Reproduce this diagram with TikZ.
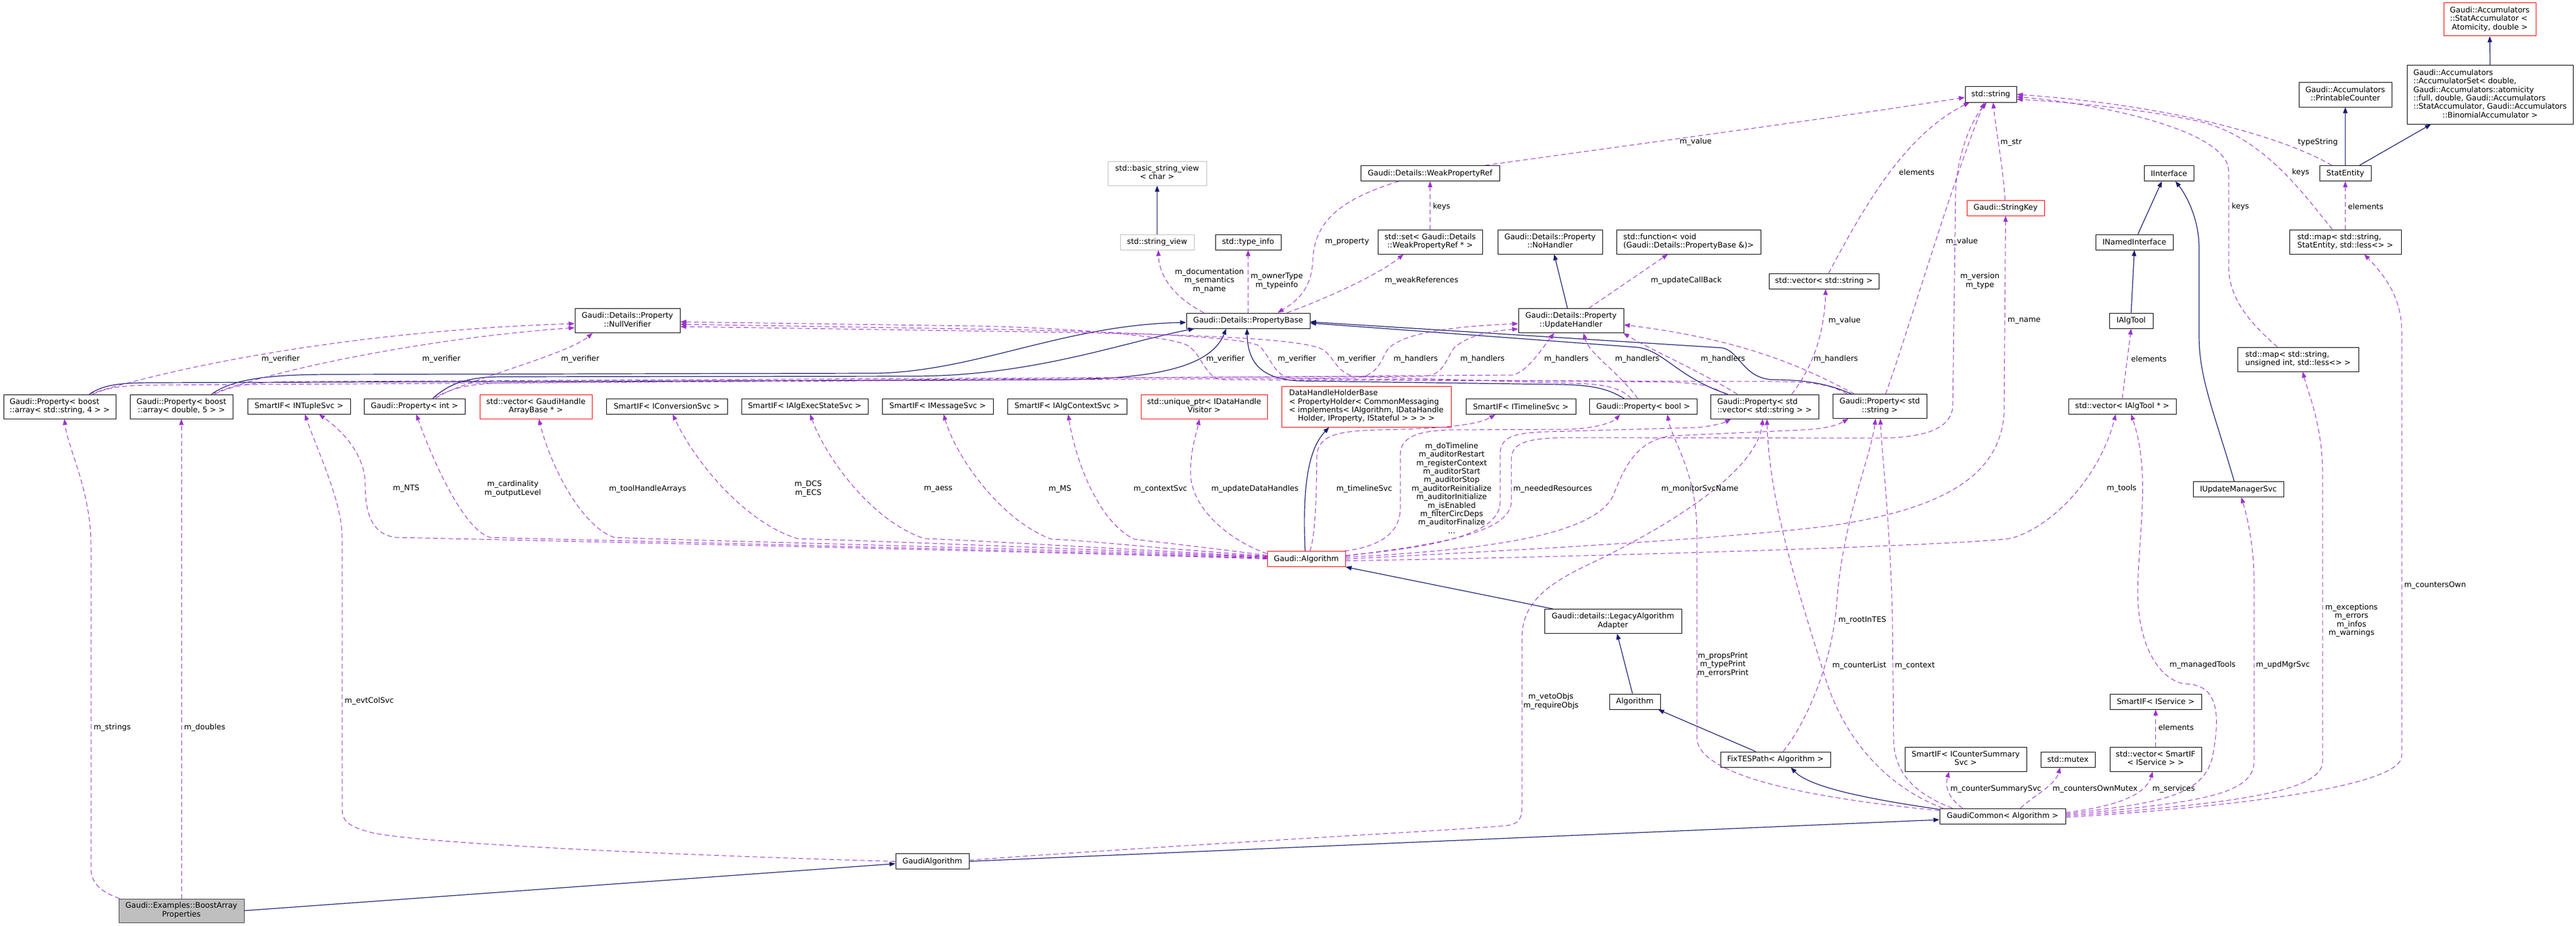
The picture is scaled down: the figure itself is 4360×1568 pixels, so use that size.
\documentclass[tikz,border=0pt]{standalone}
\usepackage{fontspec}
\setmainfont{DejaVu Sans}
\usetikzlibrary{arrows.meta,calc}
\definecolor{mblue}{HTML}{191970}
\definecolor{orch}{HTML}{9A32CD}
\definecolor{lgrey}{HTML}{BFBFBF}
\definecolor{dgrey}{HTML}{404040}
\newcommand\dfont{\fontsize{12.9}{14.4}\selectfont}
\newcommand\NdL[1]{\begin{tabular}{@{}l@{}}#1\end{tabular}}
\newcommand\NdC[1]{\multicolumn{1}{@{}c@{}}{#1}}
\newcommand\LbC[1]{\begin{tabular}{@{}c@{}}#1\end{tabular}}
\begin{document}
\begin{tikzpicture}[x=1pt,y=-1pt,
  box/.style={draw=black,line width=1pt,fill=white,inner sep=0pt,font=\dfont},
  redbox/.style={box,draw=red},
  greybox/.style={box,draw=lgrey},
  mainbox/.style={box,draw=dgrey,fill=lgrey},
  wh/.style 2 args={minimum width=#1pt,minimum height=#2pt},
  inh/.style={draw=mblue,line width=1.2pt,-{Triangle[length=10pt,width=7.5pt]}},
  use/.style={draw=orch,line width=1pt,dash pattern=on 8pt off 5pt,-{Triangle[length=10pt,width=7.5pt]}},
  lbl/.style={font=\dfont,inner sep=0pt}]
\fill[white] (0,0) rectangle (4360,1568);
\useasboundingbox (0,0) rectangle (4360,1568);

% ---------------- nodes ----------------
\node[box,wh={190}{41}] (boostStr) at (101,688.5) {\NdL{Gaudi::Property< boost\\\NdC{::array< std::string, 4 > >}}};
\node[box,wh={174}{41}] (boostDbl) at (307,688.5) {\NdL{Gaudi::Property< boost\\\NdC{::array< double, 5 > >}}};
\node[box,wh={174}{26}] (ntuple) at (506,688) {SmartIF< INTupleSvc >};
\node[box,wh={171}{26}] (propInt) at (701.5,688) {Gaudi::Property< int >};
\node[redbox,wh={190}{41}] (vecGHAB) at (907,688.5) {\NdL{std::vector< GaudiHandle\\\NdC{ArrayBase * >}}};
\node[box,wh={205}{26}] (convSvc) at (1128.5,688) {SmartIF< IConversionSvc >};
\node[box,wh={214}{26}] (execState) at (1362,688) {SmartIF< IAlgExecStateSvc >};
\node[box,wh={188}{26}] (msgSvc) at (1587,688) {SmartIF< IMessageSvc >};
\node[box,wh={202}{26}] (ctxSvc) at (1806,688) {SmartIF< IAlgContextSvc >};
\node[redbox,wh={214}{41}] (uptr) at (2038,688.5) {\NdL{std::unique\_ptr< IDataHandle\\\NdC{Visitor >}}};
\node[redbox,wh={287}{69}] (dhhb) at (2312.5,688.5) {\NdL{DataHandleHolderBase\\< PropertyHolder< CommonMessaging\\< implements< IAlgorithm, IDataHandle\\\NdC{Holder, IProperty, IStateful > > > >}}};
\node[box,wh={186}{26}] (timeline) at (2574,688.5) {SmartIF< ITimelineSvc >};
\node[box,wh={182}{26}] (propBool) at (2781,688.5) {Gaudi::Property< bool >};
\node[box,wh={183}{41}] (propVecStr) at (2986.5,688.5) {\NdL{Gaudi::Property< std\\\NdC{::vector< std::string > >}}};
\node[box,wh={159}{41}] (propStr) at (3181.5,688) {\NdL{Gaudi::Property< std\\\NdC{::string >}}};
\node[box,wh={182}{26}] (vecAlgTool) at (3592,688) {std::vector< IAlgTool * >};
\node[box,wh={205}{41}] (mapSU) at (3889.5,608.5) {\NdL{std::map< std::string,\\\NdC{unsigned int, std::less<> >}}};
\node[box,wh={153}{26}] (IUpdMgr) at (3788.5,828.5) {IUpdateManagerSvc};
\node[box,wh={178}{41}] (NullVerifier) at (1062,543) {\NdL{Gaudi::Details::Property\\\NdC{::NullVerifier}}};
\node[greybox,wh={167}{41}] (basicSV) at (1958.5,293.5) {\NdL{std::basic\_string\_view\\\NdC{< char >}}};
\node[greybox,wh={125}{26}] (stringView) at (1958.5,410) {std::string\_view};
\node[box,wh={111}{26}] (typeInfo) at (2112.5,410) {std::type\_info};
\node[box,wh={209}{26}] (propBase) at (2112.5,543) {Gaudi::Details::PropertyBase};
\node[box,wh={235}{26}] (weakRef) at (2420.5,293.5) {Gaudi::Details::WeakPropertyRef};
\node[box,wh={177}{41}] (setWeak) at (2420.5,409.5) {\NdL{std::set< Gaudi::Details\\\NdC{::WeakPropertyRef * >}}};
\node[box,wh={177}{41}] (noHandler) at (2623.5,409.5) {\NdL{Gaudi::Details::Property\\\NdC{::NoHandler}}};
\node[box,wh={244}{41}] (stdFunc) at (2858,409.5) {\NdL{std::function< void\\\NdC{(Gaudi::Details::PropertyBase \&)>}}};
\node[box,wh={178}{41}] (updHandler) at (2659,543) {\NdL{Gaudi::Details::Property\\\NdC{::UpdateHandler}}};
\node[box,wh={186}{26}] (vecString) at (3087,476) {std::vector< std::string >};
\node[box,wh={87}{26}] (stdString) at (3369.5,160) {std::string};
\node[redbox,wh={131}{26}] (stringKey) at (3394.5,352) {Gaudi::StringKey};
\node[box,wh={84}{26}] (IInterface) at (3671,293.5) {IInterface};
\node[box,wh={131}{26}] (INamed) at (3612.5,410) {INamedInterface};
\node[box,wh={74}{26}] (IAlgTool) at (3607,543) {IAlgTool};
\node[box,wh={157}{41}] (printable) at (3969.5,160.5) {\NdL{Gaudi::Accumulators\\\NdC{::PrintableCounter}}};
\node[box,wh={281}{99}] (accSet) at (4214.5,160.5) {\NdL{Gaudi::Accumulators\\::AccumulatorSet< double,\\Gaudi::Accumulators::atomicity\\::full, double, Gaudi::Accumulators\\::StatAccumulator, Gaudi::Accumulators\\\NdC{::BinomialAccumulator >}}};
\node[redbox,wh={156}{56}] (statAcc) at (4214,33) {\NdL{Gaudi::Accumulators\\::StatAccumulator <\\\NdC{Atomicity, double >}}};
\node[box,wh={87}{26}] (statEntity) at (3969.5,293.5) {StatEntity};
\node[box,wh={189}{41}] (mapSE) at (3969.5,409.5) {\NdL{std::map< std::string,\\\NdC{StatEntity, std::less<> >}}};
\node[redbox,wh={132}{26}] (gAlgorithm) at (2211,946.5) {Gaudi::Algorithm};
\node[box,wh={232}{41}] (legacy) at (2730,1052) {\NdL{Gaudi::details::LegacyAlgorithm\\\NdC{Adapter}}};
\node[box,wh={86}{26}] (algorithm) at (2767,1188) {Algorithm};
\node[box,wh={186}{26}] (fixTES) at (3005,1286) {FixTESPath< Algorithm >};
\node[box,wh={206}{41}] (counterSum) at (3327,1285.5) {\NdL{SmartIF< ICounterSummary\\\NdC{Svc >}}};
\node[box,wh={92}{26}] (mutex) at (3500,1286) {std::mutex};
\node[box,wh={155}{26}] (smartIS) at (3648.5,1188) {SmartIF< IService >};
\node[box,wh={155}{41}] (vecSmartIS) at (3648.5,1285.5) {\NdL{std::vector< SmartIF\\\NdC{< IService > >}}};
\node[box,wh={213}{26}] (gaudiCommon) at (3389.5,1382) {GaudiCommon< Algorithm >};
\node[box,wh={124}{26}] (gaudiAlg) at (1578,1458.5) {GaudiAlgorithm};
\node[mainbox,wh={212}{40}] (bap) at (307,1542) {\NdL{Gaudi::Examples::BoostArray\\\NdC{Properties}}};

% ---------------- inheritance ----------------
\draw[inh] (bap.east) -- ($(gaudiAlg.west)+(0,4)$);
\draw[inh] (gaudiAlg.east) -- ($(gaudiCommon.west)+(0,6)$);
\draw[inh] ($(gaudiCommon.north west)+(0,2)$) .. controls (3140,1350) and (3060,1330) .. ($(fixTES.south)+(26,0)$);
\draw[inh] ($(fixTES.north west)+(60,0)$) -- ($(algorithm.south east)+(-4,0)$);
\draw[inh] ($(algorithm.north)+(-4,0)$) -- ($(legacy.south)+(7,0)$);
\draw[inh] ($(legacy.north west)+(15,0)$) -- (gAlgorithm.south east);
\draw[inh] ($(gAlgorithm.north)+(-2,0)$) .. controls (2204,820) and (2215,760) .. ($(dhhb.south)+(-63,0)$);
\draw[inh] ($(IUpdMgr.north)+(-7,0)$) .. controls (3748,700) and (3722,640) .. (3722,570) -- (3722,420) .. controls (3722,370) and (3700,330) .. ($(IInterface.south)+(11,0)$);
\draw[inh] (IAlgTool.north) -- (INamed.south);
\draw[inh] ($(INamed.north)+(6,0)$) -- ($(IInterface.south)+(-12,0)$);
\draw[inh] (statEntity.north) -- (printable.south);
\draw[inh] ($(statEntity.north east)+(-20,0)$) -- ($(accSet.south)+(-100,0)$);
\draw[inh] (accSet.north) -- (statAcc.south);
\draw[inh] (stringView.north) -- (basicSV.south);
\draw[inh] ($(updHandler.north)+(-6,0)$) -- ($(noHandler.south)+(7,0)$);
\draw[inh] ($(boostStr.north)+(50,0)$) .. controls (175,652) and (200,648) .. (260,648) -- (1800,643) .. controls (1960,641) and (2050,620) .. ($(propBase.south)+(-37,0)$);
\draw[inh] ($(boostDbl.north)+(51,0)$) .. controls (390,645) and (440,634) .. (560,634) -- (1480,632) .. controls (1650,630) and (1800,550) .. ($(propBase.west)+(0,3)$);
\draw[inh] ($(propInt.north)+(31,0)$) .. controls (760,650) and (790,638) .. (850,638) -- (1550,637) .. controls (1750,636) and (1900,580) .. ($(propBase.south west)+(14,0)$);
\draw[inh] ($(propBool.north)+(-32,0)$) .. controls (2725,660) and (2700,652) .. (2640,651) -- (2200,645) .. controls (2130,642) and (2112,610) .. ($(propBase.south)+(-2,0)$);
\draw[inh] ($(propVecStr.north west)+(30,0)$) .. controls (2840,640) and (2815,592) .. (2770,588) -- ($(propBase.east)+(0,4)$);
\draw[inh] ($(propStr.north west)+(32,0)$) .. controls (3090,648) and (3050,643) .. (3000,643) .. controls (2950,640) and (2945,595) .. (2915,589) -- ($(propBase.east)+(0,2)$);

% ---------------- usage ----------------
\draw[use] ($(bap.north west)+(2,0)$) .. controls (170,1510) and (154,1495) .. (154,1470) -- (154,925) .. controls (154,830) and (115,760) .. ($(boostStr.south)+(8,0)$);
\draw[use] (bap.north) -- (boostDbl.south);
\draw[use] (gaudiAlg.west) .. controls (1200,1450) and (720,1430) .. (630,1410) .. controls (590,1400) and (579,1390) .. (579,1370) -- (579,910) .. controls (579,850) and (540,770) .. ($(ntuple.south)+(10,0)$);
% Gaudi::Algorithm, left side
\draw[use] (gAlgorithm.west) .. controls (1800,935) and (900,915) .. (670,910) .. controls (630,905) and (618,870) .. (618,820) .. controls (618,770) and (580,730) .. ($(ntuple.south)+(34,0)$);
\draw[use] ($(gAlgorithm.west)+(0,-1)$) .. controls (1800,933) and (1000,915) .. (830,910) .. controls (790,900) and (740,800) .. ($(propInt.south)+(3,0)$);
\draw[use] ($(gAlgorithm.west)+(0,-2)$) .. controls (1800,930) and (1150,915) .. (1040,910) .. controls (990,895) and (935,800) .. ($(vecGHAB.south)+(5,0)$);
\draw[use] ($(gAlgorithm.west)+(0,-3)$) .. controls (1850,930) and (1450,915) .. (1350,912) .. controls (1260,885) and (1175,780) .. ($(convSvc.south)+(10,0)$);
\draw[use] ($(gAlgorithm.west)+(0,-4)$) .. controls (1900,930) and (1650,915) .. (1565,912) .. controls (1480,885) and (1400,780) .. ($(execState.south)+(9,0)$);
\draw[use] ($(gAlgorithm.west)+(0,-5)$) .. controls (1950,928) and (1840,915) .. (1780,913) .. controls (1700,885) and (1620,780) .. ($(msgSvc.south)+(10,0)$);
\draw[use] ($(gAlgorithm.west)+(0,-6)$) .. controls (2050,928) and (1960,918) .. (1920,913) .. controls (1860,885) and (1820,780) .. ($(ctxSvc.south)+(2,0)$);
\draw[use] ($(gAlgorithm.west)+(0,-9)$) .. controls (2080,915) and (2015,860) .. (2015,800) .. controls (2015,760) and (2026,730) .. ($(uptr.south)+(-8,0)$);
% Gaudi::Algorithm, top and right side
\draw[use] ($(gAlgorithm.north)+(6,0)$) .. controls (2229,900) and (2228,800) .. (2229,770) .. controls (2232,735) and (2270,730) .. (2330,728) .. controls (2440,726) and (2500,720) .. ($(timeline.south)+(-43,0)$);
\draw[use] ($(gAlgorithm.north east)+(-2,0)$) .. controls (2340,925) and (2370,900) .. (2370,860) -- (2370,770) .. controls (2370,740) and (2400,730) .. (2450,728) -- (2650,727) .. controls (2700,726) and (2730,715) .. ($(propBool.south)+(-39,0)$);
\draw[use] ($(gAlgorithm.east)+(0,-6)$) .. controls (2450,925) and (2539,900) .. (2539,850) -- (2539,770) .. controls (2539,740) and (2560,733) .. (2620,731) -- (2870,724) .. controls (2900,722) and (2920,715) .. ($(propVecStr.south)+(-57,0)$);
\draw[use] ($(gAlgorithm.east)+(0,-3)$) .. controls (2550,930) and (2700,900) .. (2730,840) .. controls (2750,790) and (2770,745) .. (2830,738) -- (3050,728) .. controls (3090,726) and (3110,720) .. ($(propStr.south)+(-53,0)$);
\draw[use] ($(gAlgorithm.east)+(0,-5)$) .. controls (2450,920) and (2555,900) .. (2558,850) -- (2558,775) .. controls (2560,748) and (2590,742) .. (2650,741) -- (3170,742) .. controls (3250,742) and (3300,730) .. (3305,690) -- (3310,320) .. controls (3315,250) and (3340,200) .. ($(stdString.south)+(-7,0)$);
\draw[use] (gAlgorithm.east) .. controls (2500,935) and (2900,915) .. (3100,890) .. controls (3300,860) and (3385,800) .. (3392,700) -- (stringKey.south);
\draw[use] ($(gAlgorithm.east)+(0,3)$) .. controls (2600,945) and (3300,925) .. (3400,912) .. controls (3460,900) and (3550,820) .. ($(vecAlgTool.south)+(-11,0)$);
% GaudiAlgorithm
\draw[use] ($(gaudiAlg.east)+(0,-2)$) .. controls (2000,1430) and (2480,1405) .. (2550,1398) .. controls (2572,1395) and (2576,1385) .. (2576,1365) -- (2576,1080) .. controls (2576,1020) and (2620,990) .. (2680,960) .. controls (2850,880) and (2975,790) .. ($(propVecStr.south)+(-3,0)$);
% GaudiCommon
\draw[use] ($(gaudiCommon.north west)+(0,4)$) .. controls (3100,1355) and (2875,1320) .. (2872,1250) -- (2872,900) .. controls (2872,800) and (2830,745) .. ($(propBool.south)+(41,0)$);
\draw[use] ($(fixTES.north)+(13,0)$) .. controls (3060,1220) and (3100,1120) .. (3108,1030) .. controls (3118,880) and (3165,780) .. ($(propStr.south)+(-7,0)$);
\draw[use] ($(gaudiCommon.north west)+(6,0)$) .. controls (3200,1335) and (3125,1260) .. (3090,1150) .. controls (3040,990) and (2995,850) .. ($(propVecStr.south)+(4,0)$);
\draw[use] ($(gaudiCommon.north west)+(22,0)$) .. controls (3230,1340) and (3205,1300) .. (3205,1250) -- (3203,1050) .. controls (3200,900) and (3186,780) .. ($(propStr.south)+(1,0)$);
\draw[use] ($(gaudiCommon.north)+(-68,0)$) .. controls (3296,1350) and (3292,1330) .. ($(counterSum.south)+(-28,0)$);
\draw[use] ($(gaudiCommon.north)+(30,0)$) .. controls (3445,1345) and (3478,1330) .. ($(mutex.south)+(-13,0)$);
\draw[use] ($(gaudiCommon.east)+(0,-6)$) .. controls (3585,1365) and (3632,1345) .. ($(vecSmartIS.south)+(-5,0)$);
\draw[use] (vecSmartIS.north) -- (smartIS.south);
\draw[use] ($(gaudiCommon.east)+(0,-4)$) .. controls (3650,1360) and (3730,1350) .. (3745,1280) .. controls (3760,1200) and (3750,1160) .. (3700,1158) .. controls (3660,1155) and (3618,1100) .. (3618,1000) .. controls (3620,900) and (3640,800) .. ($(vecAlgTool.south)+(15,0)$);
\draw[use] ($(gaudiCommon.east)+(0,-2)$) .. controls (3700,1360) and (3815,1350) .. (3815,1290) -- (3815,980) .. controls (3815,930) and (3805,880) .. ($(IUpdMgr.south)+(5,0)$);
\draw[use] (gaudiCommon.east) .. controls (3750,1362) and (3931,1345) .. (3931,1290) -- (3931,800) .. controls (3931,720) and (3905,660) .. ($(mapSU.south)+(8,0)$);
\draw[use] ($(gaudiCommon.east)+(0,2)$) .. controls (3800,1365) and (4065,1330) .. (4065,1280) -- (4065,560) .. controls (4065,500) and (4030,460) .. ($(mapSE.south)+(32,0)$);
% std::string and friends
\draw[use] ($(mapSU.north)+(-35,0)$) .. controls (3800,540) and (3772,500) .. (3772,450) -- (3772,290) .. controls (3772,220) and (3550,175) .. ($(stdString.east)+(0,4)$);
\draw[use] ($(mapSE.north)+(-22,0)$) .. controls (3900,330) and (3830,230) .. (3720,205) .. controls (3600,180) and (3480,172) .. ($(stdString.east)+(0,8)$);
\draw[use] (mapSE.north) -- (statEntity.south);
\draw[use] ($(statEntity.north)+(-23,0)$) .. controls (3880,240) and (3700,180) .. (stdString.east);
\draw[use] ($(stringKey.north)+(-1,0)$) .. controls (3390,280) and (3378,220) .. ($(stdString.south)+(4,0)$);
\draw[use] ($(propStr.north)+(10,0)$) .. controls (3230,560) and (3300,320) .. ($(stdString.south)+(-11,0)$);
\draw[use] ($(vecString.north)+(8,0)$) .. controls (3150,360) and (3220,230) .. ($(stdString.south west)+(8,0)$);
\draw[use] ($(weakRef.north east)+(-25,0)$) .. controls (2800,240) and (3100,200) .. ($(stdString.west)+(0,5)$);
\draw[use] ($(weakRef.south west)+(65,0)$) .. controls (2260,340) and (2225,380) .. (2222,440) .. controls (2220,490) and (2195,510) .. ($(propBase.north)+(50,0)$);
\draw[use] (setWeak.north) -- (weakRef.south);
\draw[use] ($(propBase.north)+(66,0)$) .. controls (2260,500) and (2340,460) .. ($(setWeak.south)+(-45,0)$);
\draw[use] ($(propBase.north)+(-75,0)$) .. controls (1990,505) and (1962,470) .. ($(stringView.south)+(2,0)$);
\draw[use] (propBase.north) -- (typeInfo.south);
\draw[use] ($(updHandler.north)+(30,0)$) -- ($(stdFunc.south)+(-35,0)$);
\draw[use] ($(propVecStr.north)+(46,0)$) .. controls (3070,620) and (3088,560) .. ($(vecString.south)+(3,0)$);
\draw[use] (vecAlgTool.north) -- (IAlgTool.south);
% m_verifier
\draw[use] ($(boostStr.north)+(50,0)$) .. controls (300,620) and (600,560) .. ($(NullVerifier.west)+(0,5)$);
\draw[use] ($(boostDbl.north)+(51,0)$) .. controls (480,620) and (750,570) .. ($(NullVerifier.west)+(0,12)$);
\draw[use] ($(propInt.north)+(31,0)$) .. controls (800,640) and (960,600) .. ($(NullVerifier.south)+(-59,0)$);
\draw[use] ($(propBool.north)+(-20,0)$) .. controls (2745,658) and (2720,650) .. (2660,649) -- (2300,638) .. controls (2262,637) and (2258,600) .. (2235,590) .. controls (2190,572) and (2000,566) .. (1750,562) -- ($(NullVerifier.east)+(0,10)$);
\draw[use] ($(propVecStr.north)+(-66,0)$) .. controls (2900,655) and (2880,648) .. (2820,647) -- (2190,641) .. controls (2155,640) and (2150,600) .. (2130,585) .. controls (2100,570) and (1900,562) .. (1700,558) -- ($(NullVerifier.east)+(0,6)$);
\draw[use] ($(propStr.north west)+(25,0)$) .. controls (3100,652) and (3070,646) .. (3000,646) -- (2070,643) .. controls (2040,642) and (2035,600) .. (2010,585) .. controls (1980,568) and (1800,555) .. (1650,552) -- ($(NullVerifier.east)+(0,2)$);
% m_handlers
\draw[use] ($(boostStr.north)+(56,0)$) .. controls (180,657) and (205,652) .. (265,652) -- (2290,640) .. controls (2335,639) and (2338,605) .. (2350,590) .. controls (2380,560) and (2480,552) .. ($(updHandler.west)+(0,5)$);
\draw[use] ($(boostDbl.north)+(56,0)$) .. controls (395,652) and (430,646) .. (520,646) -- (2410,637) .. controls (2445,636) and (2448,605) .. (2462,588) .. controls (2490,565) and (2530,560) .. ($(updHandler.west)+(0,14)$);
\draw[use] ($(propInt.north)+(36,0)$) .. controls (765,655) and (800,648) .. (880,648) -- (2560,635) .. controls (2585,630) and (2610,590) .. ($(updHandler.south west)+(61,0)$);
\draw[use] ($(propBool.north)+(-9,0)$) .. controls (2740,630) and (2690,600) .. ($(updHandler.south)+(21,0)$);
\draw[use] ($(propVecStr.north)+(-46,0)$) .. controls (2880,630) and (2790,590) .. ($(updHandler.south east)+(-1,0)$);
\draw[use] ($(propStr.north west)+(37,0)$) .. controls (3050,620) and (2950,575) .. ($(updHandler.east)+(0,7)$);

% ---------------- labels ----------------
\node[lbl] (lb1) at (190,1232.5) {m\_strings};
\node[lbl] (lb2) at (346.5,1232.5) {m\_doubles};
\node[lbl] (lb3) at (625,1187) {m\_evtColSvc};
\node[lbl] (lb4) at (687.5,827.5) {m\_NTS};
\node[lbl] (lb5) at (868,828) {\LbC{m\_cardinality\\m\_outputLevel}};
\node[lbl] (lb6) at (1096,828) {m\_toolHandleArrays};
\node[lbl] (lb7) at (1368,828) {\LbC{m\_DCS\\m\_ECS}};
\node[lbl] (lb8) at (1588,828) {m\_aess};
\node[lbl] (lb9) at (1794,828) {m\_MS};
\node[lbl] (lb10) at (1964,828) {m\_contextSvc};
\node[lbl] (lb11) at (2124,828) {m\_updateDataHandles};
\node[lbl] (lb12) at (2309,828) {m\_timelineSvc};
\node[lbl] (lb13) at (2457,828.5) {\LbC{m\_doTimeline\\m\_auditorRestart\\m\_registerContext\\m\_auditorStart\\m\_auditorStop\\m\_auditorReinitialize\\m\_auditorInitialize\\m\_isEnabled\\m\_filterCircDeps\\m\_auditorFinalize\\...}};
\node[lbl] (lb14) at (2628,828) {m\_neededResources};
\node[lbl] (lb15) at (2877,828) {m\_monitorSvcName};
\node[lbl] (lb16) at (475,607.7) {m\_verifier};
\node[lbl] (lb17) at (747,607.7) {m\_verifier};
\node[lbl] (lb18) at (982,607.7) {m\_verifier};
\node[lbl] (lb19) at (2074,607.7) {m\_verifier};
\node[lbl] (lb20) at (2195,607.7) {m\_verifier};
\node[lbl] (lb21) at (2296,607.7) {m\_verifier};
\node[lbl] (lb22) at (2396,607.7) {m\_handlers};
\node[lbl] (lb23) at (2509,607.7) {m\_handlers};
\node[lbl] (lb24) at (2651,607.7) {m\_handlers};
\node[lbl] (lb25) at (2771,607.7) {m\_handlers};
\node[lbl] (lb26) at (2916,607.7) {m\_handlers};
\node[lbl] (lb27) at (3107,607.7) {m\_handlers};
\node[lbl] (lb28) at (3122,543) {m\_value};
\node[lbl] (lb29) at (3426,543) {m\_name};
\node[lbl] (lb30) at (3637,607.5) {elements};
\node[lbl] (lb31) at (3591,827) {m\_tools};
\node[lbl] (lb32) at (4121.5,991) {m\_countersOwn};
\node[lbl] (lb33) at (3980,1051) {\LbC{m\_exceptions\\m\_errors\\m\_infos\\m\_warnings}};
\node[lbl] (lb34) at (3728,1126.5) {m\_managedTools};
\node[lbl] (lb35) at (3864,1126.5) {m\_updMgrSvc};
\node[lbl] (lb36) at (3683,1232) {elements};
\node[lbl] (lb37) at (3679,1336.5) {m\_services};
\node[lbl] (lb38) at (3546,1336.5) {m\_countersOwnMutex};
\node[lbl] (lb39) at (3378,1336.5) {m\_counterSummarySvc};
\node[lbl] (lb40) at (3241,1127) {m\_context};
\node[lbl] (lb41) at (3147,1127) {m\_counterList};
\node[lbl] (lb42) at (3152,1050.5) {m\_rootInTES};
\node[lbl] (lb43) at (2916,1126) {\LbC{m\_propsPrint\\m\_typePrint\\m\_errorsPrint}};
\node[lbl] (lb44) at (2625,1188) {\LbC{m\_vetoObjs\\m\_requireObjs}};
\node[lbl] (lb45) at (2047,476) {\LbC{m\_documentation\\m\_semantics\\m\_name}};
\node[lbl] (lb46) at (2161,476) {\LbC{m\_ownerType\\m\_typeinfo}};
\node[lbl] (lb47) at (2280,409) {m\_property};
\node[lbl] (lb48) at (2406,475) {m\_weakReferences};
\node[lbl] (lb49) at (2440,350) {keys};
\node[lbl] (lb50) at (2870,240) {m\_value};
\node[lbl] (lb51) at (3244,292) {elements};
\node[lbl] (lb52) at (2854,475) {m\_updateCallBack};
\node[lbl] (lb53) at (3404,241) {m\_str};
\node[lbl] (lb54) at (3320.5,409) {m\_value};
\node[lbl] (lb55) at (3351,476) {\LbC{m\_version\\m\_type}};
\node[lbl] (lb56) at (3923,241) {typeString};
\node[lbl] (lb57) at (3894,292) {keys};
\node[lbl] (lb58) at (3792,350) {keys};
\node[lbl] (lb59) at (4004,350) {elements};
\end{tikzpicture}
\end{document}
